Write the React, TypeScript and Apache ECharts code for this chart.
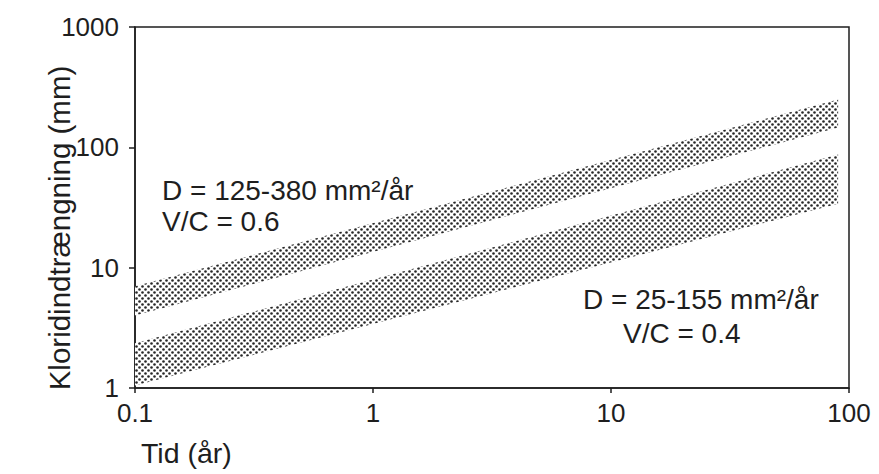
import React, { useEffect, useRef } from "react";
import * as echarts from "echarts";

// Time (years) at the two ends of each band
const bandTimes = [0.1, 90];
// Upper band: D = 125-380 mm²/år, V/C = 0.6
const upperBandHigh = [7.0, 250];
const upperBandLow = [4.0, 146];
// Lower band: D = 25-155 mm²/år, V/C = 0.4
const lowerBandHigh = [2.35, 87];
const lowerBandLow = [1.05, 34];

const xAxisRange = [0.1, 100];
const yAxisRange = [1, 1000];

const labelUpper = ["D = 125-380 mm²/år", "V/C = 0.6"];
const labelLower = ["D = 25-155 mm²/år", "V/C = 0.4"];
const xTitle = "Tid (år)";
const yTitle = "Kloridindtrængning (mm)";

const FONT = "'Liberation Sans', Arial, Helvetica, sans-serif";
const INK = "#1e1e1e";

function makeDotPattern() {
  const c = document.createElement("canvas");
  c.width = 6;
  c.height = 6;
  const ctx = c.getContext("2d")!;
  ctx.fillStyle = "#ffffff";
  ctx.fillRect(0, 0, 6, 6);
  ctx.fillStyle = "#262626";
  ctx.beginPath();
  ctx.arc(1.5, 1.5, 1.3, 0, Math.PI * 2);
  ctx.fill();
  ctx.beginPath();
  ctx.arc(4.5, 4.5, 1.3, 0, Math.PI * 2);
  ctx.fill();
  return c;
}

function bandSeries(name: string, high: number[], low: number[], pattern: any) {
  return {
    type: "custom",
    name,
    coordinateSystem: "cartesian2d",
    data: [[bandTimes[0], low[0]]],
    clip: true,
    silent: true,
    renderItem: (_params: any, api: any) => {
      const pts: number[][] = [];
      for (let i = 0; i < bandTimes.length; i++) pts.push(api.coord([bandTimes[i], high[i]]));
      for (let i = bandTimes.length - 1; i >= 0; i--) pts.push(api.coord([bandTimes[i], low[i]]));
      return {
        type: "polygon",
        shape: { points: pts },
        style: { fill: pattern, stroke: null },
      };
    },
  };
}

export default function App() {
  const ref = useRef<HTMLDivElement>(null);
  useEffect(() => {
    document.body.style.margin = "0";
    if (!ref.current) return;
    const chart = echarts.init(ref.current, null, { renderer: "svg" });
    const canvas = makeDotPattern();
    const pattern = {
      image: canvas,
      repeat: "repeat",
      imageWidth: 6,
      imageHeight: 6,
    };
    const textStyleBase = { fontFamily: FONT, fill: INK };
    chart.setOption({
      animation: false,
      backgroundColor: "#ffffff",
      grid: {
        left: 135,
        right: 30,
        top: 27,
        bottom: 86,
        show: true,
        borderColor: INK,
        borderWidth: 1.5,
        backgroundColor: "transparent",
      },
      xAxis: {
        type: "log",
        logBase: 10,
        min: xAxisRange[0],
        max: xAxisRange[1],
        axisLine: { show: true, lineStyle: { color: INK, width: 1.5 } },
        axisTick: { show: true, length: 5, lineStyle: { color: INK, width: 1.5 } },
        minorTick: { show: false },
        splitLine: { show: false },
        axisLabel: {
          fontSize: 26,
          color: INK,
          fontFamily: FONT,
          margin: 12,
          formatter: (v: number) => String(v),
        },
      },
      yAxis: {
        type: "log",
        logBase: 10,
        min: yAxisRange[0],
        max: yAxisRange[1],
        axisLine: { show: true, lineStyle: { color: INK, width: 1.5 } },
        axisTick: { show: true, length: 6, lineStyle: { color: INK, width: 1.5 } },
        minorTick: { show: false },
        splitLine: { show: false },
        axisLabel: {
          fontSize: 26,
          color: INK,
          fontFamily: FONT,
          margin: 16,
          formatter: (v: number) => String(v),
        },
      },
      series: [
        bandSeries("upper", upperBandHigh, upperBandLow, pattern),
        bandSeries("lower", lowerBandHigh, lowerBandLow, pattern),
      ],
      graphic: [
        {
          type: "text",
          x: 162,
          y: 190,
          style: { ...textStyleBase, text: labelUpper[0], fontSize: 28, verticalAlign: "middle" },
        },
        {
          type: "text",
          x: 162,
          y: 221,
          style: { ...textStyleBase, text: labelUpper[1], fontSize: 28, verticalAlign: "middle" },
        },
        {
          type: "text",
          x: 583,
          y: 299,
          style: { ...textStyleBase, text: labelLower[0], fontSize: 28, verticalAlign: "middle" },
        },
        {
          type: "text",
          x: 623,
          y: 333,
          style: { ...textStyleBase, text: labelLower[1], fontSize: 28, verticalAlign: "middle" },
        },
        {
          type: "text",
          x: 141,
          y: 453,
          style: { ...textStyleBase, text: xTitle, fontSize: 28.5, verticalAlign: "middle" },
        },
        {
          type: "text",
          x: 59,
          y: 228,
          rotation: Math.PI / 2,
          style: {
            ...textStyleBase,
            text: yTitle,
            fontSize: 29.5,
            align: "center",
            verticalAlign: "middle",
          },
        },
      ],
    });
    return () => chart.dispose();
  }, []);
  return <div ref={ref} style={{ width: 879, height: 474 }} />;
}
